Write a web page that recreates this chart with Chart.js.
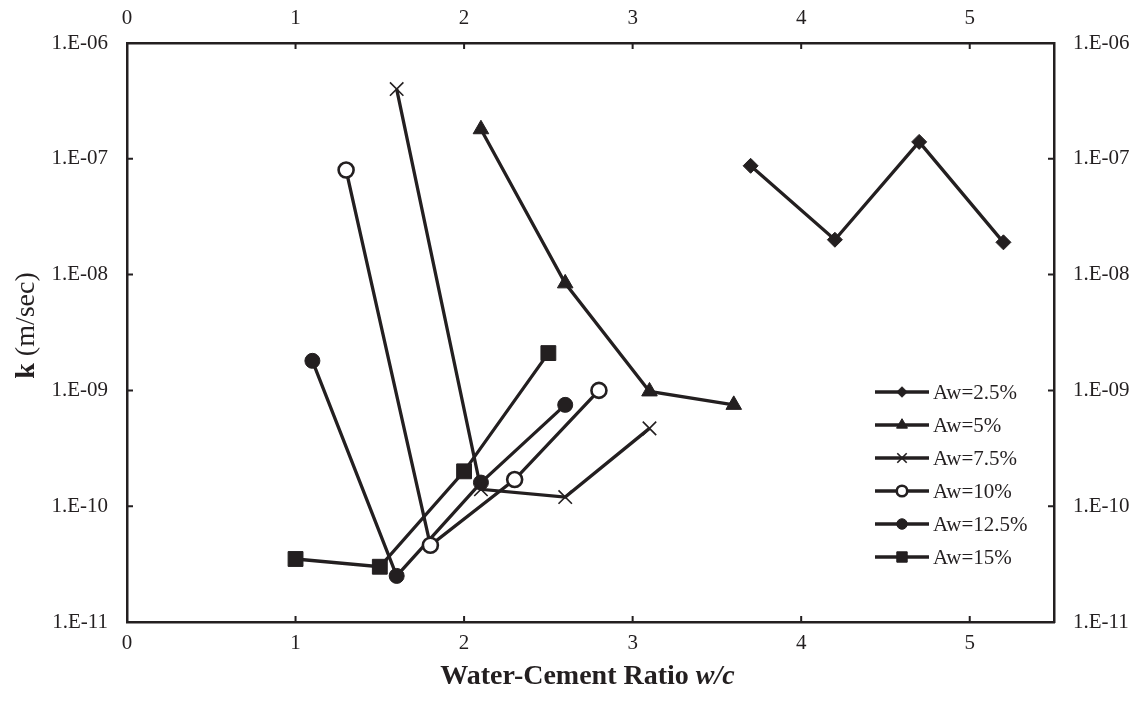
<!DOCTYPE html>
<html>
<head>
<meta charset="utf-8">
<script src="https://cdn.jsdelivr.net/npm/chart.js@4.4.1/dist/chart.umd.min.js"></script>
<style>
  body { margin: 0; background: #fff; }
  #wrap { width: 1143px; height: 703px; position: relative; }
</style>
</head>
<body>
<div id="wrap"><canvas id="chart"></canvas></div>
<script>
  // values
  const seriesLabels = ["Aw=2.5%", "Aw=5%", "Aw=7.5%", "Aw=10%", "Aw=12.5%", "Aw=15%"];
  const wc25 = [3.7, 4.2, 4.7, 5.2];
  const k25 = [8.7e-8, 2.0e-8, 1.4e-7, 1.9e-8];
  const wc5 = [2.1, 2.6, 3.1, 3.6];
  const k5 = [1.8e-7, 8.4e-9, 9.8e-10, 7.5e-10];
  const wc75 = [1.6, 2.1, 2.6, 3.1];
  const k75 = [4.0e-7, 1.4e-10, 1.2e-10, 4.7e-10];
  const wc10 = [1.3, 1.8, 2.3, 2.8];
  const k10 = [8.0e-8, 4.6e-11, 1.7e-10, 1.0e-9];
  const wc125 = [1.1, 1.6, 2.1, 2.6];
  const k125 = [1.8e-9, 2.5e-11, 1.6e-10, 7.5e-10];
  const wc15 = [1.0, 1.5, 2.0, 2.5];
  const k15 = [3.5e-11, 3.0e-11, 2.0e-10, 2.1e-9];

  const xTicks = [0, 1, 2, 3, 4, 5];
  const yTicks = [1e-11, 1e-10, 1e-9, 1e-8, 1e-7, 1e-6];

  const ink = "#231f20";
  const tickFont = { family: "'Liberation Serif', 'Times New Roman', serif", size: 21 };

  function toPoints(xs, ys) {
    return xs.map((x, i) => ({ x: x, y: ys[i] }));
  }

  function sciLabel(v) {
    const exp = Math.round(Math.log10(v));
    const abs = Math.abs(exp);
    return "1.E" + (exp < 0 ? "-" : "+") + (abs < 10 ? "0" + abs : abs);
  }

  const markers = [
    { pointStyle: "rectRot", radius: 7.5, fill: ink, border: 1 },
    { pointStyle: "triangle", radius: 9, fill: ink, border: 1 },
    { pointStyle: "crossRot", radius: 9.5, fill: ink, border: 1.6 },
    { pointStyle: "circle", radius: 7.5, fill: "#ffffff", border: 2.6 },
    { pointStyle: "circle", radius: 7.5, fill: ink, border: 1 },
    { pointStyle: "rect", radius: 10.5, fill: ink, border: 1 },
  ];

  const seriesData = [
    toPoints(wc25, k25),
    toPoints(wc5, k5),
    toPoints(wc75, k75),
    toPoints(wc10, k10),
    toPoints(wc125, k125),
    toPoints(wc15, k15),
  ];

  const datasets = seriesData.map((pts, i) => ({
    label: seriesLabels[i],
    data: pts,
    borderColor: ink,
    borderWidth: 3.3,
    tension: 0,
    pointStyle: markers[i].pointStyle,
    pointRadius: markers[i].radius,
    pointHoverRadius: markers[i].radius,
    pointBackgroundColor: markers[i].fill,
    pointBorderColor: ink,
    pointBorderWidth: markers[i].border,
    clip: false,
  }));

  // small tick marks that point into the plot
  const innerTicks = {
    id: "innerTicks",
    afterDraw(chart) {
      const { ctx, chartArea: a, scales } = chart;
      const len = 6;
      ctx.save();
      ctx.strokeStyle = ink;
      ctx.lineWidth = 2;
      ctx.beginPath();
      xTicks.forEach((v) => {
        const px = scales.x.getPixelForValue(v);
        ctx.moveTo(px, a.bottom);
        ctx.lineTo(px, a.bottom - len);
        ctx.moveTo(px, a.top);
        ctx.lineTo(px, a.top + len);
      });
      yTicks.forEach((v) => {
        const py = scales.y.getPixelForValue(v);
        ctx.moveTo(a.left, py);
        ctx.lineTo(a.left + len, py);
        ctx.moveTo(a.right, py);
        ctx.lineTo(a.right - len, py);
      });
      ctx.stroke();
      ctx.restore();
    },
  };

  // axis titles with mixed bold / italic runs
  const axisTitles = {
    id: "axisTitles",
    afterDraw(chart) {
      const { ctx, chartArea: a } = chart;
      const fam = "'Liberation Serif', 'Times New Roman', serif";
      ctx.save();
      ctx.fillStyle = ink;
      ctx.textBaseline = "alphabetic";

      const partA = "Water-Cement Ratio ";
      const partB = "w/c";
      ctx.font = "bold 28px " + fam;
      const wA = ctx.measureText(partA).width;
      ctx.font = "italic bold 28px " + fam;
      const wB = ctx.measureText(partB).width;
      const cx = (a.left + a.right) / 2 - 3;
      let x0 = cx - (wA + wB) / 2;
      ctx.textAlign = "left";
      ctx.font = "bold 28px " + fam;
      ctx.fillText(partA, x0, 684);
      ctx.font = "italic bold 28px " + fam;
      ctx.fillText(partB, x0 + wA, 684);

      const yA = "k";
      const yB = " (m/sec)";
      ctx.translate(34, (a.top + a.bottom) / 2 - 7);
      ctx.rotate(-Math.PI / 2);
      ctx.font = "bold 28px " + fam;
      const wk = ctx.measureText(yA).width;
      ctx.font = "28px " + fam;
      const wr = ctx.measureText(yB).width;
      x0 = -(wk + wr) / 2;
      ctx.font = "bold 28px " + fam;
      ctx.fillText(yA, x0, 0);
      ctx.font = "28px " + fam;
      ctx.fillText(yB, x0 + wk, 0);
      ctx.restore();
    },
  };

  // legend drawn as line + marker + label, like the original
  const lineLegend = {
    id: "lineLegend",
    afterDraw(chart) {
      const { ctx } = chart;
      const x1 = 875;
      const x2 = 929;
      const top = 392;
      const step = 33;
      ctx.save();
      chart.data.datasets.forEach((ds, i) => {
        const y = top + i * step;
        ctx.strokeStyle = ink;
        ctx.lineWidth = 3.3;
        ctx.beginPath();
        ctx.moveTo(x1, y);
        ctx.lineTo(x2, y);
        ctx.stroke();
        ctx.fillStyle = markers[i].fill;
        ctx.strokeStyle = ink;
        ctx.lineWidth = markers[i].border;
        Chart.helpers.drawPoint(ctx, {
          pointStyle: markers[i].pointStyle,
          radius: markers[i].radius * 0.7,
          rotation: 0,
          borderWidth: markers[i].border,
        }, (x1 + x2) / 2, y);
        ctx.fillStyle = ink;
        ctx.font = "21px 'Liberation Serif', 'Times New Roman', serif";
        ctx.textAlign = "left";
        ctx.textBaseline = "middle";
        ctx.fillText(ds.label, x2 + 4, y + 1);
      });
      ctx.restore();
    },
  };

  const border = { display: true, color: ink, width: 2.5 };

  new Chart(document.getElementById("chart"), {
    type: "line",
    data: { datasets },
    options: {
      responsive: true,
      maintainAspectRatio: false,
      animation: false,
      layout: { padding: 0 },
      plugins: {
        legend: { display: false },
        tooltip: { enabled: false },
        title: { display: false },
      },
      scales: {
        x: {
          type: "linear",
          position: "bottom",
          min: 0,
          max: 5.5,
          afterBuildTicks(s) { s.ticks = xTicks.map((v) => ({ value: v })); },
          afterFit(s) { s.height = 81; },
          grid: { display: false, drawTicks: false },
          border,
          ticks: { color: ink, font: tickFont, padding: 9, maxRotation: 0 },
        },
        xTop: {
          type: "linear",
          position: "top",
          min: 0,
          max: 5.5,
          afterBuildTicks(s) { s.ticks = xTicks.map((v) => ({ value: v })); },
          afterFit(s) { s.height = 43; },
          grid: { display: false, drawTicks: false },
          border,
          ticks: { color: ink, font: tickFont, padding: 12, maxRotation: 0 },
        },
        y: {
          type: "logarithmic",
          position: "left",
          min: 1e-11,
          max: 1e-6,
          afterBuildTicks(s) { s.ticks = yTicks.map((v) => ({ value: v })); },
          afterFit(s) { s.width = 127; },
          grid: { display: false, drawTicks: false },
          border,
          ticks: { color: ink, font: tickFont, padding: 19, callback: (v) => sciLabel(v) },
        },
        yRight: {
          type: "logarithmic",
          position: "right",
          min: 1e-11,
          max: 1e-6,
          afterBuildTicks(s) { s.ticks = yTicks.map((v) => ({ value: v })); },
          afterFit(s) { s.width = 89; },
          grid: { display: false, drawTicks: false },
          border,
          ticks: { color: ink, font: tickFont, padding: 19, callback: (v) => sciLabel(v) },
        },
      },
    },
    plugins: [innerTicks, axisTitles, lineLegend],
  });
</script>
</body>
</html>
